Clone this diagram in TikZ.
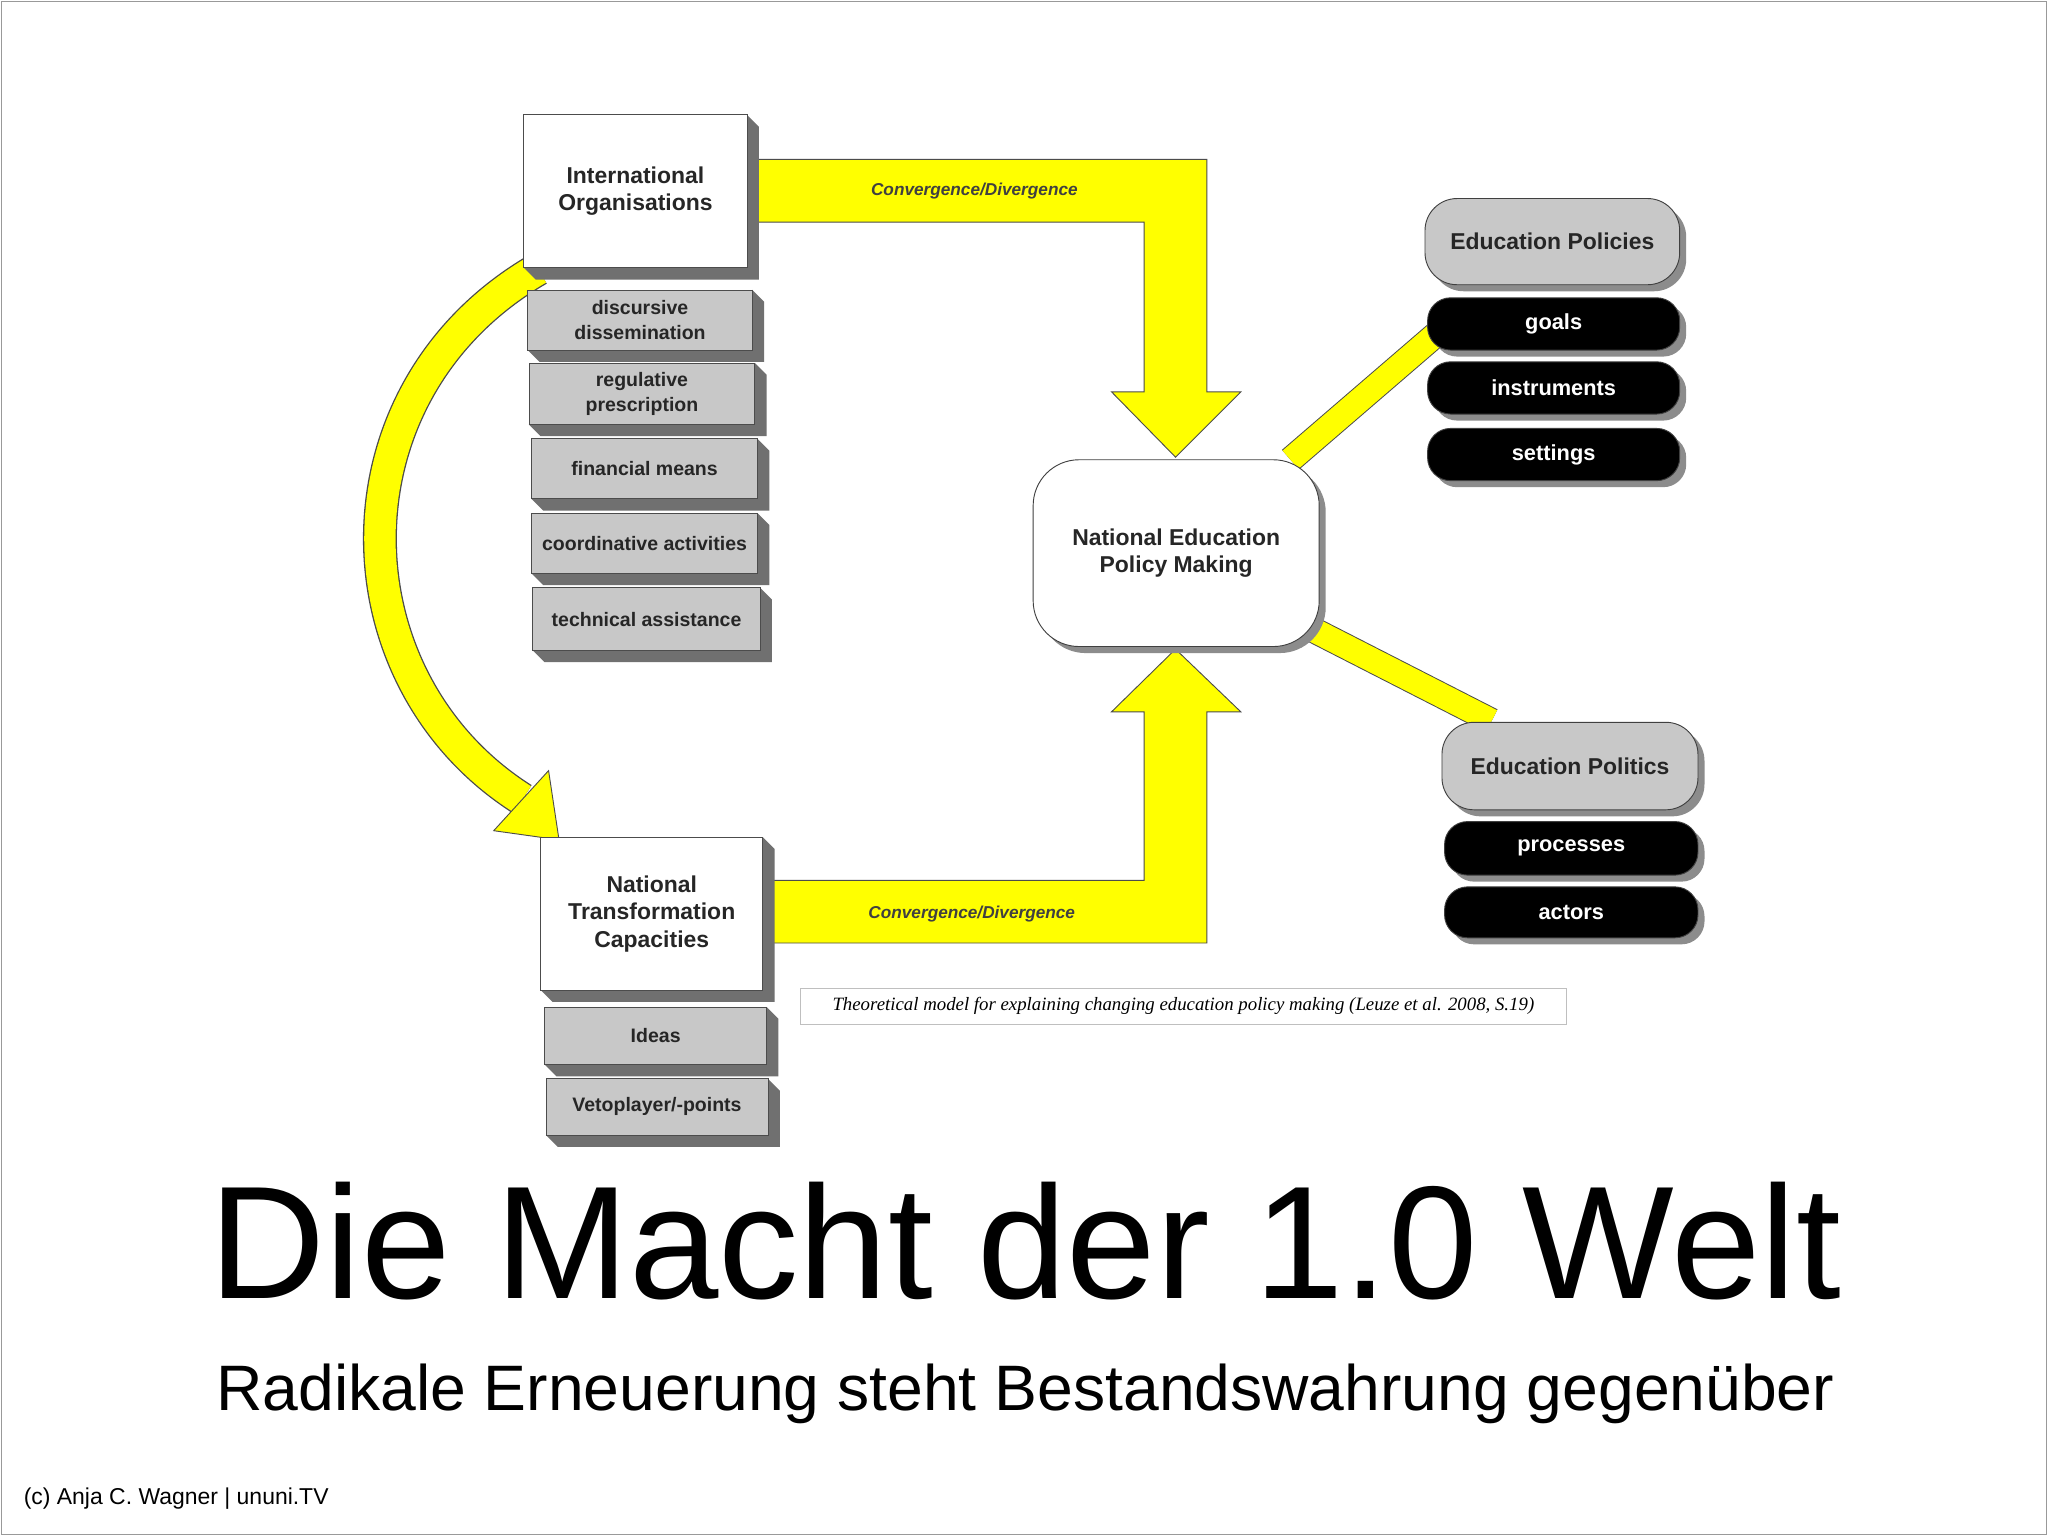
\documentclass[tikz,border=0pt]{standalone}
\usepackage{fontspec}
\setmainfont{Liberation Sans}
\newfontfamily\capfont{Liberation Serif}
\definecolor{yel}{HTML}{FFFF00}
\definecolor{boxgray}{HTML}{C8C8C8}
\definecolor{extr}{HTML}{707070}
\tikzset{
  boxtext/.style={font=\bfseries\fontsize{10}{12}\selectfont, align=center, text=black!85},
  smalltext/.style={font=\bfseries\fontsize{8.5}{11}\selectfont, align=center, text=black!85},
  whitetext/.style={font=\bfseries\fontsize{9.5}{11}\selectfont, align=center, text=white},
  bigarrow/.style={fill=yel, draw=black!70, line width=0.4pt},
  convlabel/.style={font=\bfseries\itshape\fontsize{7.5}{9}\selectfont, text=black!75}
}
\newcommand\tdbox[8]{%
  \fill[extr] (#4,#3) -- (#4+9,#3+9) -- (#4+9,#5+9) -- (#2+9,#5+9) -- (#2,#5) -- cycle;
  \draw[black!70, fill=#6] (#2,#3) rectangle (#4,#5);
  \node[#8] (#1) at ({(#2+#4)/2},{(#3+#5)/2}) {#7};}
\newcommand\rbox[9]{%
  \fill[black!45, rounded corners=#8] (#2+5,#3+5) rectangle (#4+5,#5+5);
  \draw[black!75, fill=#6, rounded corners=#8] (#2,#3) rectangle (#4,#5);
  \node[#9] (#1) at ({(#2+#4)/2},{(#3+#5)/2}) {#7};}
\begin{document}
\begin{tikzpicture}[x=0.02cm, y=-0.02cm]
\fill[white] (0,0) rectangle (1568,1176);
\draw[black!40, line width=0.6pt] (1,1) rectangle (1567,1175);
\useasboundingbox (0,0) rectangle (1568,1176);

% diagonal connectors
\draw[black!70, line width=0.4cm] (988,352) -- (1118,240);
\draw[yel, line width=0.37cm] (988,352) -- (1118,240);
\draw[black!70, line width=0.4cm] (1005,482) -- (1142,552);
\draw[yel, line width=0.37cm] (1005,482) -- (1142,552);

% big arrows
\draw[bigarrow] (572,122) -- (924,122) -- (924,300) -- (950,300) -- (900,350) -- (851,300) -- (876,300) -- (876,170) -- (572,170) -- cycle;
\draw[bigarrow] (584,674) -- (876,674) -- (876,545) -- (851,545) -- (900,497) -- (950,545) -- (924,545) -- (924,722) -- (584,722) -- cycle;
\node[convlabel] (c1) at (746,146) {Convergence/Divergence};
\node[convlabel] (c2) at (744,700) {Convergence/Divergence};

% curved arrow
\draw[black!70, line width=0.52cm] (412,206) .. controls (250,300) and (255,520) .. (400,612);
\draw[yel, line width=0.48cm] (412,206) .. controls (250,300) and (255,520) .. (400,612);
\draw[bigarrow] (420,590) -- (428,643) -- (378,636) -- cycle;

% left boxes
\tdbox{io}{401}{88}{572}{205}{white}{International\\Organisations}{boxtext}
\tdbox{dd}{404}{222}{576}{268}{boxgray}{discursive\\dissemination}{smalltext}
\tdbox{rp}{405}{278}{578}{325}{boxgray}{regulative\\prescription}{smalltext}
\tdbox{fm}{407}{336}{580}{382}{boxgray}{financial means}{smalltext}
\tdbox{ca}{407}{393}{580}{439}{boxgray}{coordinative activities}{smalltext}
\tdbox{ta}{408}{450}{582}{498}{boxgray}{technical assistance}{smalltext}
\tdbox{ntc}{414}{641}{584}{758}{white}{National\\Transformation\\Capacities}{boxtext}
\tdbox{id}{417}{771}{587}{815}{boxgray}{Ideas}{smalltext}
\tdbox{vp}{418}{826}{588}{869}{boxgray}{Vetoplayer/-points}{smalltext}

% center
\rbox{nepm}{791}{352}{1010}{495}{white}{National Education\\Policy Making}{20pt}{boxtext}

% right
\rbox{epol}{1091}{152}{1286}{218}{boxgray}{Education Policies}{14pt}{boxtext}
\rbox{goals}{1093}{228}{1286}{268}{black}{goals}{10pt}{whitetext}
\rbox{instr}{1093}{277}{1286}{317}{black}{instruments}{10pt}{whitetext}
\rbox{sett}{1093}{328}{1286}{368}{black}{settings}{10pt}{whitetext}
\rbox{epolit}{1104}{553}{1300}{620}{boxgray}{Education Politics}{14pt}{boxtext}
\rbox{proc}{1106}{629}{1300}{670}{black}{processes}{10pt}{whitetext}
\rbox{act}{1106}{679}{1300}{718}{black}{actors}{10pt}{whitetext}

% caption
\draw[black!25, fill=white] (613,757) rectangle (1199,784);
\node[font=\capfont\itshape\fontsize{8.2}{9}\selectfont] (cap) at (906,770.5) {Theoretical model for explaining changing education policy making (Leuze et al. 2008, S.19)};

% titles
\node[font=\fontsize{70}{74}\selectfont] (title) at (785,950) {Die Macht der 1.0 Welt};
\node[font=\fontsize{28}{32}\selectfont] (sub) at (785,1067) {Radikale Erneuerung steht Bestandswahrung gegenüber};
\node[font=\fontsize{10}{12}\selectfont, anchor=west] (foot) at (12,1147) {(c) Anja C. Wagner | ununi.TV};
\end{tikzpicture}
\end{document}
